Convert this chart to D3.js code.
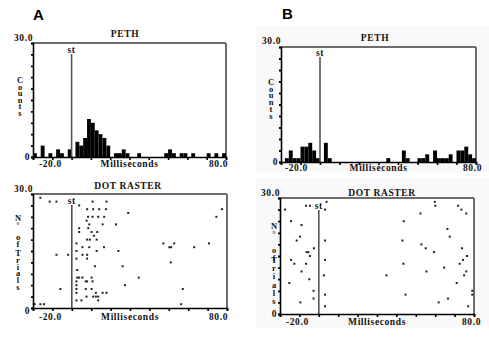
<!DOCTYPE html>
<html><head><meta charset="utf-8">
<script src="https://cdn.jsdelivr.net/npm/d3@7"></script>
<style>
body{margin:0;background:#fff}
svg{display:block}
text{font-family:"Liberation Serif","DejaVu Serif",serif;font-weight:bold;font-size:9.5px;letter-spacing:0.6px;fill:#111}
.panelLetter{font-family:"Liberation Sans",Arial,sans-serif;font-size:15px;font-weight:bold;fill:#000;letter-spacing:0}
.vert{writing-mode:vertical-rl;text-orientation:upright;font-size:8.5px}
</style>
</head><body>
<svg id="chart" width="489" height="337"></svg>
<script>
// ---------- DATA ----------
const timeDomain = [-20, 80];           // milliseconds
const countDomain = [0, 30];
const binWidthMs = 2;
const xTickLabels = ["-20.0", "80.0"];
const yTickLabels = ["0", "30.0"];
const xAxisTitle = "Milliseconds";
const stimLabel = "st";
const pethTitle = "PETH";
const rasterTitle = "DOT RASTER";
const pethYLabel = ["Counts"];
const rasterYLabel = ["N°", "of", "Trials"];

// PETH counts per 2-ms bin, starting at -20 ms
const pethA = [1,0,3,0,1,0,2,1,0,2, 0,4,3,5,10,9,7,6,5,3, 0,1,1,2,1,0,0,1,0,0,
               0,0,0,0,1,2,1,0,1,1, 0,1,0,0,0,1,0,1,0,1];
const pethB = [0,1,3,1,1,4,4,5,3,1, 0,5,1,0,0,0,0,0,0,0, 0,0,0,0,0,0,0,1,0,0,
               0,3,1,0,0,1,1,2,0,3, 1,1,1,2,0,3,3,4,2,1];

// Raster spikes: [time ms, trial]
const rasterA = [
 [-16.2,29],
 [-11.4,28],[-7.9,28],[10.7,28],[17.9,28],
 [3.8,27],
 [7.9,26],[11,26],[14.1,26],[17.6,26],[77.4,26],
 [29.1,25],
 [8.4,24],[10.7,24],[13.6,24],[16.7,24],[74.5,24],
 [7.6,23],
 [9,22],[15.9,22],[22.8,22],
 [3.8,21],[8.5,21],
 [3.8,20],[10.2,20],[13.1,20],
 [11.4,19],
 [7.9,18],[9.3,18],[12.8,18],
 [2.4,17],[47.2,17],[52.8,17],[70.7,17],
 [5.5,16],[9,16],[16.6,16],[50.3,16],[51.2,16],[63.1,16],
 [2.4,15],[12.8,15],[24,15],
 [-7.9,14],[-1.9,14],[5.5,14],[7.9,14],
 [2.4,13],[7.9,13],
 [51,12],
 [11.9,11],[26.2,11],
 [2.8,10],
 [2.8,8],[3.8,8],[5.5,8],[10.2,8],[34.5,8],
 [2.4,7],[7.2,7],[7.9,7],[10.7,7],
 [2.4,6],[27.4,6],
 [-5.9,5],[2.4,5],[7.2,5],[10.2,5],[57.2,5],
 [2.4,4],[12.4,4],[15.9,4],[17.9,4],
 [7.6,3],[11,3],[12.4,3],[13.6,3],
 [2.4,2],[5,2],[13.6,2],
 [-19.1,1],[-16.2,1],[-14.3,1],[56.4,1]
];
const rasterB = [
 [4,29],[59.8,29],
 [-6.6,28],[-4.6,28],[60.1,28],[71.8,28],
 [-17.4,27],[3.2,27],[73.5,27],
 [52.4,26],[76,26],
 [-14.3,24],[43.8,24],
 [-8.9,23],
 [66.3,22],
 [-9.7,20],[67.5,20],
 [-11.4,19],[3.2,19],[43.1,19],
 [52.9,18],
 [-2.5,17],[55.1,17],[73.8,17],
 [-6.3,16],[-5.4,16],[59.4,16],
 [-4.6,15],[76.4,15],
 [-14.3,14],[3.2,14],[74.3,14],
 [-12.6,13],[-6.6,13],[43.6,13],[72.6,13],
 [64.6,12],
 [-8.9,11],[55.5,11],[76,11],
 [2.6,10],[34.9,10],[74.9,10],
 [-4.9,9],
 [-15.2,8],[71.1,8],
 [-2.7,6],[79.1,6],
 [3.2,5],[44.7,5],[79.1,5],
 [-2.7,4],[66.6,4],
 [-9.5,3],[61.8,3],
 [3.2,2],[77,2]
];

// ---------- LAYOUT ----------
const svg = d3.select("#chart");
svg.append("rect").attr("x",256).attr("y",26).attr("width",233).attr("height",146).attr("fill","#f9f9f9");
svg.append("rect").attr("x",256).attr("y",178).attr("width",233).attr("height",150).attr("fill","#f9f9f9");

svg.append("text").attr("class","panelLetter").attr("x",33).attr("y",20).text("A");
svg.append("text").attr("class","panelLetter").attr("x",282).attr("y",19).text("B");

const panels = [
 {type:"peth", data:pethA, x0:33, x1:226, y0:157, y1:43, title:pethTitle, titleX:125, titleY:37,
  topLblY:41, zeroY:160, xLblY:167, x80dx:2, xm20dx:6, stY:53, vx:20, vy:[75], vs:6.3},
 {type:"peth", data:pethB, x0:281, x1:476, y0:162, y1:47, title:pethTitle, titleX:375, titleY:41,
  topLblY:44, zeroY:165, xLblY:171, x80dx:6, xm20dx:4, stY:56, vx:271, vy:[77], vs:6.5},
 {type:"raster", data:rasterA, x0:33, x1:227, y0:308, y1:194, title:rasterTitle, titleX:128, titleY:189,
  topLblY:192, zeroY:314, xLblY:320, x80dx:1, xm20dx:6, stY:204, vx:18, vy:[213,232,248], vs:6.6},
 {type:"raster", data:rasterB, x0:280, x1:474, y0:314, y1:198, title:rasterTitle, titleX:382, titleY:196,
  topLblY:196, zeroY:317, xLblY:325, x80dx:7, xm20dx:6, stY:209, vx:274, vy:[221,245,255], vs:8}
];

panels.forEach(p => {
  const g = svg.append("g");
  const x = d3.scaleLinear().domain(timeDomain).range([p.x0, p.x1]);
  const y = d3.scaleLinear().domain(countDomain).range([p.y0, p.y1]);

  // white plotting area
  g.append("rect").attr("x",x(timeDomain[0])).attr("y",y(30)).attr("width",x(timeDomain[1])-x(timeDomain[0]))
    .attr("height",y(0)-y(30)).attr("fill","#fff");

  // frame top & right
  g.append("line").attr("x1",x(timeDomain[0])).attr("x2",x(timeDomain[1])).attr("y1",y(30)).attr("y2",y(30))
    .attr("stroke","#6d6d6d").attr("stroke-width",2);
  g.append("line").attr("x1",x(timeDomain[1])).attr("x2",x(timeDomain[1])).attr("y1",y(30)).attr("y2",y(0))
    .attr("stroke","#6d6d6d").attr("stroke-width",2);

  // marks
  if (p.type === "peth") {
    g.selectAll("rect.bar").data(p.data).join("rect").attr("class","bar")
      .attr("x",(d,i)=>x(timeDomain[0]+i*binWidthMs))
      .attr("width",(d,i)=>x(timeDomain[0]+(i+1)*binWidthMs)-x(timeDomain[0]+i*binWidthMs))
      .attr("y",d=>y(d)).attr("height",d=>y(0)-y(d)).attr("fill","#000");
  } else {
    g.selectAll("rect.dot").data(p.data).join("rect").attr("class","dot")
      .attr("x",d=>x(d[0])-1).attr("y",d=>y(d[1])-1).attr("width",2).attr("height",2).attr("fill","#222");
  }

  // stimulus line
  g.append("line").attr("x1",x(0)).attr("x2",x(0)).attr("y1",p.stY+1).attr("y2",y(0))
    .attr("stroke","#555").attr("stroke-width",1.6);
  g.append("text").attr("x",x(0)).attr("y",p.stY).attr("text-anchor","middle").text(stimLabel);

  // axes (ticks only)
  const ax = g.append("g").attr("transform",`translate(0,${y(0)})`)
    .call(d3.axisBottom(x).tickValues(d3.range(-20,81,10)).tickSize(3).tickFormat(""));
  ax.select(".domain").attr("stroke","#000").attr("stroke-width",1.6);
  ax.selectAll(".tick line").attr("stroke","#000").attr("stroke-width",1.6);
  const ay = g.append("g").attr("transform",`translate(${x(timeDomain[0])},0)`)
    .call(d3.axisLeft(y).tickValues(d3.range(0,31,3)).tickSize(2).tickFormat(""));
  ay.select(".domain").attr("stroke","#000").attr("stroke-width",1.6);
  ay.selectAll(".tick line").attr("stroke","#000").attr("stroke-width",1.8);

  // labels
  g.append("text").attr("x",x(timeDomain[0])).attr("y",p.topLblY).attr("text-anchor","end").text(yTickLabels[1]);
  g.append("text").attr("x",x(timeDomain[0])-3).attr("y",p.zeroY).attr("text-anchor","end").text(yTickLabels[0]);
  g.append("text").attr("x",x(timeDomain[0])+p.xm20dx).attr("y",p.xLblY).text(xTickLabels[0]);
  g.append("text").attr("x",x(timeDomain[1])+p.x80dx).attr("y",p.xLblY).attr("text-anchor","end").text(xTickLabels[1]);
  g.append("text").attr("x",x(30)).attr("y",p.xLblY).attr("text-anchor","middle").text(xAxisTitle);
  g.append("text").attr("x",p.titleX).attr("y",p.titleY).attr("text-anchor","middle").text(p.title);

  // stacked (upright vertical) axis label words
  const words = p.type === "peth" ? pethYLabel : rasterYLabel;
  words.forEach((w,i) => {
    g.append("text").attr("class","vert").attr("x",p.vx).attr("y",p.vy[i])
      .style("letter-spacing",(p.vs-9.8)+"px").text(w);
  });
});
</script>
</body></html>
